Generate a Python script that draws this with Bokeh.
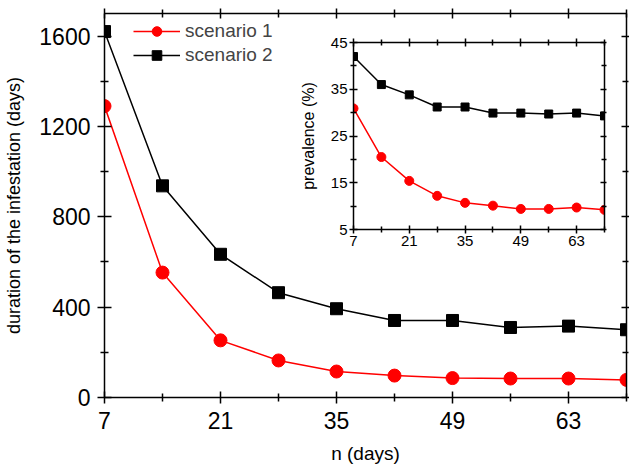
from bokeh.plotting import figure
from bokeh.models import FixedTicker, LinearAxis, Range1d, Legend, LegendItem
from bokeh.embed import file_html
from bokeh.resources import INLINE

days = [7, 14, 21, 28, 35, 42, 49, 56, 63, 70]
duration_s1 = [1290, 553, 253, 164, 115, 97, 86, 84, 84, 78]
duration_s2 = [1620, 937, 634, 464, 393, 341, 341, 310, 316, 300]
prev_s1 = [30.9, 20.5, 15.4, 12.2, 10.7, 10.1, 9.4, 9.4, 9.7, 9.2]
prev_s2 = [42.0, 36.0, 33.8, 31.2, 31.2, 29.9, 29.9, 29.7, 29.9, 29.3]
x_major = [7, 21, 35, 49, 63]
x_minor = [14, 28, 42, 56, 70]
dur_major = [0, 400, 800, 1200, 1600]
dur_minor = [200, 600, 1000, 1400]
prev_major = [5, 15, 25, 35, 45]
prev_minor = [10, 20, 30, 40]
series_names = ["scenario 1", "scenario 2"]
x_title = "n (days)"
y_title = "duration of the infestation (days)"
inset_y_title = "prevalence (%)"

FONT = "Liberation Sans"
RED = "#ff0000"
BLACK = "#000000"


def style_axis(ax, major, minor, size, tin, tout, mtin, mtout, labels=True, standoff=6):
    ax.ticker = FixedTicker(ticks=major, minor_ticks=minor)
    ax.axis_line_color = "black"
    ax.axis_line_width = 1.5
    ax.major_tick_line_color = "black"
    ax.major_tick_line_width = 1.5
    ax.minor_tick_line_color = "black"
    ax.minor_tick_line_width = 1.5
    ax.major_tick_in = tin
    ax.major_tick_out = tout
    ax.minor_tick_in = mtin
    ax.minor_tick_out = mtout
    ax.major_label_text_font = FONT
    ax.major_label_text_color = "black"
    if labels:
        ax.major_label_text_font_size = f"{size}px"
        ax.major_label_standoff = standoff
    else:
        ax.major_label_overrides = {t: "" for t in major}
        ax.major_label_text_font_size = "1px"
        ax.major_label_standoff = 0


def style_title(ax, size, standoff):
    ax.axis_label_text_font = FONT
    ax.axis_label_text_font_size = f"{size}px"
    ax.axis_label_text_font_style = "normal"
    ax.axis_label_text_color = "black"
    ax.axis_label_standoff = standoff


# ---------- main chart ----------
p = figure(width=629, height=473,
           x_range=Range1d(7, 70), y_range=Range1d(0, 1700),
           min_border_left=104, min_border_top=13, min_border_right=3, min_border_bottom=76,
           output_backend="svg", toolbar_location=None,
           x_axis_label=x_title, y_axis_label=y_title)
p.grid.visible = False
p.outline_line_color = None
p.background_fill_color = "white"
p.border_fill_color = "white"

p.add_layout(LinearAxis(), "above")
p.add_layout(LinearAxis(), "right")

for ax in p.below:
    style_axis(ax, x_major, x_minor, 23, 6, 6, 4, 4, True, 8)
    style_title(ax, 19, 11)
for ax in p.above:
    style_axis(ax, x_major, x_minor, 18, 5, 5, 4, 4, False)
for ax in p.left:
    style_axis(ax, dur_major, dur_minor, 23, 7, 7, 4, 4, True, 7)
    style_title(ax, 18, 12)
for ax in p.right:
    style_axis(ax, dur_major, dur_minor, 18, 5, 3, 4, 2, False)

l1 = p.line(days, duration_s1, line_color=RED, line_width=1.5)
m1 = p.scatter(days, duration_s1, marker="circle", size=13, fill_color=RED, line_color=RED)
l2 = p.line(days, duration_s2, line_color=BLACK, line_width=1.5)
m2 = p.scatter(days, duration_s2, marker="square", size=12, fill_color=BLACK, line_color=BLACK)

legend = Legend(items=[LegendItem(label=series_names[0], renderers=[l1, m1]),
                       LegendItem(label=series_names[1], renderers=[l2, m2])],
                location=(29, 330))
legend.padding = 0
legend.margin = 0
legend.spacing = 0
legend.glyph_width = 47
legend.glyph_height = 24
legend.label_height = 24
legend.label_standoff = 5
legend.label_text_font = FONT
legend.label_text_font_size = "19px"
legend.border_line_color = None
legend.background_fill_alpha = 0
p.add_layout(legend)

# ---------- inset ----------
q = figure(width=316, height=221,
           x_range=Range1d(7, 70), y_range=Range1d(5, 45),
           min_border_left=56, min_border_top=8, min_border_right=8, min_border_bottom=26,
           output_backend="svg", toolbar_location=None,
           y_axis_label=inset_y_title)
q.grid.visible = False
q.outline_line_color = None
q.background_fill_color = "white"
q.border_fill_alpha = 0
q.add_layout(LinearAxis(), "above")
q.add_layout(LinearAxis(), "right")
for ax in q.below:
    style_axis(ax, x_major, x_minor, 15, 4, 4, 3, 3, True, 2)
for ax in q.above:
    style_axis(ax, x_major, x_minor, 14, 4, 4, 3, 3, False)
for ax in q.left:
    style_axis(ax, prev_major, prev_minor, 15, 4, 4, 3, 3, True, 2)
    style_title(ax, 16, 11)
for ax in q.right:
    style_axis(ax, prev_major, prev_minor, 14, 4, 2, 3, 2, False)

q.line(days, prev_s1, line_color=RED, line_width=1.5)
q.scatter(days, prev_s1, marker="circle", size=9, fill_color=RED, line_color=RED)
q.line(days, prev_s2, line_color=BLACK, line_width=1.5)
q.scatter(days, prev_s2, marker="square", size=8, fill_color=BLACK, line_color=BLACK)

q.styles = {"position": "absolute", "left": "296px", "top": "34px"}

open("out.html", "w").write(file_html([p, q], INLINE))
